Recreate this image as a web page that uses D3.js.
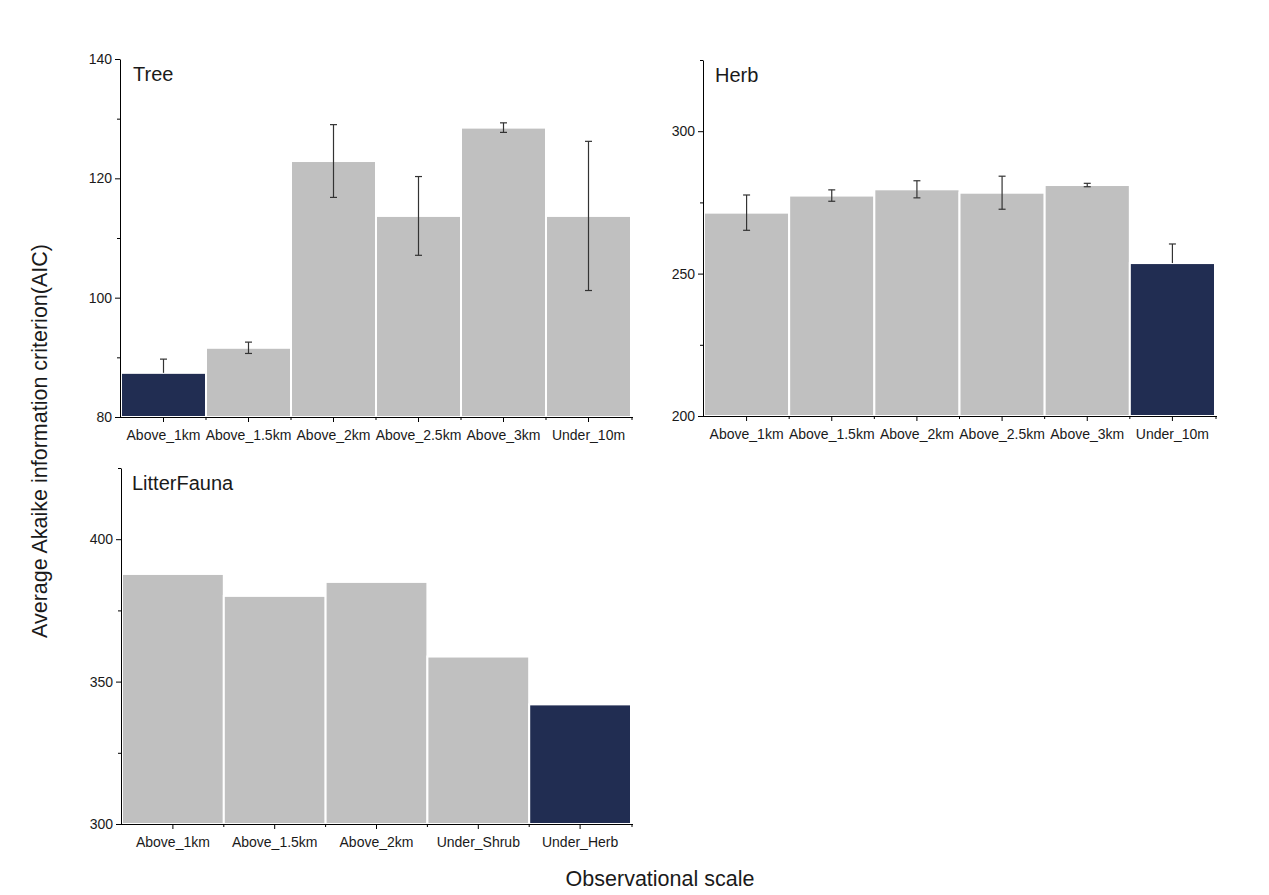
<!DOCTYPE html>
<html>
<head>
<meta charset="utf-8">
<script src="https://cdn.jsdelivr.net/npm/d3@7"></script>
<style>
  body { margin: 0; background: #fff; }
  text { font-family: Arial, "Liberation Sans", sans-serif; fill: #1a1a1a; }
</style>
</head>
<body>
<svg class="face" width="1269" height="895"></svg>
<script>
// data
const treeCats = ['Above_1km', 'Above_1.5km', 'Above_2km', 'Above_2.5km', 'Above_3km', 'Under_10m'];
const treeMeans = [87.4, 91.6, 122.9, 113.7, 128.5, 113.7];
const treeErr = [2.3, 0.95, 6.1, 6.6, 0.8, 12.5];
const treeBest = 'Above_1km';

const herbCats = ['Above_1km', 'Above_1.5km', 'Above_2km', 'Above_2.5km', 'Above_3km', 'Under_10m'];
const herbMeans = [271.4, 277.4, 279.6, 278.4, 281.1, 253.7];
const herbErr = [6.2, 2.0, 3.0, 5.8, 0.6, 6.7];
const herbBest = 'Under_10m';

const litterCats = ['Above_1km', 'Above_1.5km', 'Above_2km', 'Under_Shrub', 'Under_Herb'];
const litterMeans = [387.8, 380.1, 385.0, 358.8, 342.0];
const litterBest = 'Under_Herb';

const svg = d3.select('.face');
const grey = '#c0c0c0';
const navy = '#212d52';

function panel(opt) {
  const g = svg.append('g');
  const x = d3.scaleBand()
    .domain(opt.cats)
    .range([opt.left + 1, opt.right])
    .paddingInner(0).paddingOuter(0);
  const y = d3.scaleLinear()
    .domain(opt.domain)
    .range([opt.bottom, opt.top]);

  const rows = opt.cats.map((c, i) => ({c, v: opt.means[i], e: opt.err ? opt.err[i] : null}));

  g.selectAll('rect.bar')
    .data(rows)
    .enter().append('rect')
      .attr('class', 'bar')
      .attr('x', d => x(d.c))
      .attr('width', x.bandwidth())
      .attr('y', d => y(d.v))
      .attr('height', d => y(opt.domain[0]) - y(d.v))
      .attr('fill', d => d.c === opt.best ? navy : grey)
      .attr('stroke', '#fff')
      .attr('stroke-width', 2);

  if (opt.err) {
    const eb = g.selectAll('g.err')
      .data(rows)
      .enter().append('g')
        .attr('class', 'err')
        .attr('stroke', '#333')
        .attr('stroke-width', 1.2);
    const cx = d => x(d.c) + x.bandwidth() / 2;
    // lower half disappears into the dark bar in the original
    const lo = d => d.c === opt.best ? d.v : d.v - d.e;
    eb.append('line')
      .attr('x1', cx).attr('x2', cx)
      .attr('y1', d => y(lo(d))).attr('y2', d => y(d.v + d.e));
    eb.append('line')
      .attr('x1', d => cx(d) - 3.5).attr('x2', d => cx(d) + 3.5)
      .attr('y1', d => y(d.v + d.e)).attr('y2', d => y(d.v + d.e));
    eb.filter(d => d.c !== opt.best).append('line')
      .attr('x1', d => cx(d) - 3.5).attr('x2', d => cx(d) + 3.5)
      .attr('y1', d => y(d.v - d.e)).attr('y2', d => y(d.v - d.e));
  }

  // y axis: major ticks with labels, minor ticks without
  const yAxis = g.append('g')
    .attr('transform', `translate(${opt.left},0)`)
    .call(d3.axisLeft(y).tickValues(opt.major).tickSize(5).tickSizeOuter(0).tickPadding(3));
  yAxis.selectAll('text').attr('font-size', 14);
  g.append('g')
    .attr('transform', `translate(${opt.left},0)`)
    .call(d3.axisLeft(y).tickValues(opt.minor).tickSize(3).tickFormat('').tickSizeOuter(0))
    .call(s => s.select('.domain').remove());

  // x axis: ticks at bar centres, small ticks at bar boundaries
  const xAxis = g.append('g')
    .attr('transform', `translate(0,${opt.bottom})`)
    .call(d3.axisBottom(x).tickSize(5).tickSizeOuter(0).tickPadding(8));
  xAxis.select('.domain').attr('d', `M${opt.left},0.5H${opt.right + 2}`);
  xAxis.selectAll('text').attr('font-size', 14);
  g.append('g')
    .attr('transform', `translate(0,${opt.bottom})`)
    .selectAll('line')
    .data(opt.cats.slice(1).map(c => x(c)).concat([opt.right + 1]))
    .enter().append('line')
      .attr('x1', d => d).attr('x2', d => d)
      .attr('y1', 0).attr('y2', 3)
      .attr('stroke', '#000');

  g.selectAll('.domain, .tick line').attr('stroke', '#000');

  g.append('text')
    .attr('x', opt.titleX)
    .attr('y', opt.top + 22)
    .attr('font-size', 20)
    .text(opt.title);
}

panel({
  title: 'Tree', titleX: 133, cats: treeCats, means: treeMeans, err: treeErr, best: treeBest,
  left: 120, right: 631, top: 59, bottom: 417,
  domain: [80, 140], major: [80, 100, 120, 140], minor: [90, 110, 130]
});

panel({
  title: 'Herb', titleX: 715, cats: herbCats, means: herbMeans, err: herbErr, best: herbBest,
  left: 703, right: 1215, top: 60, bottom: 416,
  domain: [200, 325], major: [200, 250, 300], minor: [225, 275, 325]
});

panel({
  title: 'LitterFauna', titleX: 132, cats: litterCats, means: litterMeans, err: null, best: litterBest,
  left: 121, right: 631, top: 468, bottom: 824,
  domain: [300, 425], major: [300, 350, 400], minor: [325, 375, 425]
});

svg.append('text')
  .attr('transform', 'translate(47,441) rotate(-90)')
  .attr('text-anchor', 'middle')
  .attr('font-size', 21.5)
  .text('Average Akaike information criterion(AIC)');

svg.append('text')
  .attr('x', 660)
  .attr('y', 886)
  .attr('text-anchor', 'middle')
  .attr('font-size', 21.5)
  .text('Observational scale');
</script>
</body>
</html>
